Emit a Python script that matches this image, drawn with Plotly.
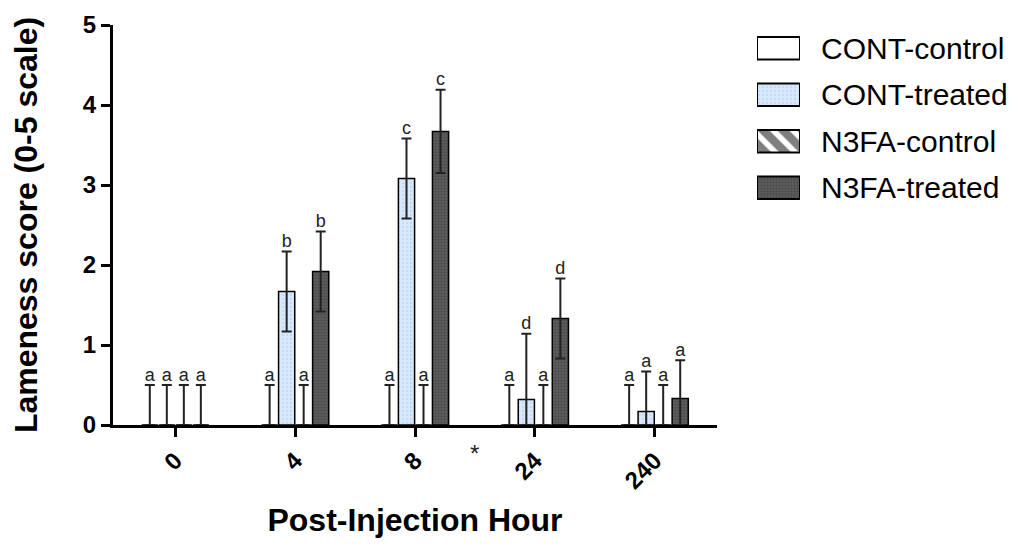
import plotly.graph_objects as go

# Post-injection time points (hours)
hours = ["0", "4", "8", "24", "240"]

# Mean lameness scores per group
cont_control = [0, 0, 0, 0, 0]
cont_treated = [0, 1.67, 3.08, 0.32, 0.17]
n3fa_control = [0, 0, 0, 0, 0]
n3fa_treated = [0, 1.92, 3.67, 1.33, 0.33]

# Error (SE) per group
cont_control_err = [0.5, 0.5, 0.5, 0.5, 0.5]
cont_treated_err = [0.5, 0.5, 0.5, 0.82, 0.5]
n3fa_control_err = [0.5, 0.5, 0.5, 0.5, 0.5]
n3fa_treated_err = [0.5, 0.5, 0.52, 0.5, 0.48]

# Significance letters
cont_control_lbl = ["a", "a", "a", "a", "a"]
cont_treated_lbl = ["a", "b", "c", "d", "a"]
n3fa_control_lbl = ["a", "a", "a", "a", "a"]
n3fa_treated_lbl = ["a", "b", "c", "d", "a"]

names = ["CONT-control", "CONT-treated", "N3FA-control", "N3FA-treated"]
values = [cont_control, cont_treated, n3fa_control, n3fa_treated]
errors = [cont_control_err, cont_treated_err, n3fa_control_err, n3fa_treated_err]
letters = [cont_control_lbl, cont_treated_lbl, n3fa_control_lbl, n3fa_treated_lbl]

patterns = [
    dict(shape="", bgcolor="white"),
    dict(shape=".", bgcolor="#d9e9fb", fgcolor="#a9c8ec", size=4, solidity=0.25),
    dict(shape="\\", bgcolor="white", fgcolor="black", size=14, solidity=0.6),
    dict(shape=".", bgcolor="#5c5c5c", fgcolor="#333333", size=3, solidity=0.3),
]
fills = ["white", "#d9e9fb", "white", "#5c5c5c"]

FONT = "Arial, Liberation Sans, sans-serif"
step = 0.142
bar_w = 0.135
idx = list(range(len(hours)))

fig = go.Figure()
for k in range(4):
    off = (k - 1.5) * step
    xs = [i + off for i in idx]
    # lower whisker cannot go below zero
    minus = [min(e, v) for e, v in zip(errors[k], values[k])]
    fig.add_trace(go.Bar(
        x=xs, y=values[k], width=bar_w, name=names[k],
        marker=dict(color=fills[k], line=dict(color="black", width=1.5),
                    pattern=patterns[k]),
        error_y=dict(type="data", symmetric=False, array=errors[k],
                     arrayminus=minus, color="#222222", thickness=2, width=5),
    ))
    fig.add_trace(go.Scatter(
        x=xs, y=[v + e for v, e in zip(values[k], errors[k])],
        text=letters[k], mode="text", textposition="top center",
        textfont=dict(family=FONT, size=18, color="#222222"),
        cliponaxis=False, hoverinfo="skip",
    ))

# Key: one swatch per group on its own small axis pair, names as tick labels
for k in range(4):
    fig.add_trace(go.Bar(
        x=[1], y=[names[k]], orientation="h", width=0.48,
        xaxis="x2", yaxis="y2", hoverinfo="skip",
        marker=dict(color=fills[k], line=dict(color="black", width=2),
                    pattern=patterns[k]),
    ))

# break marker between the 8 h and 24 h groups
fig.add_annotation(x=2.5, y=-0.11, xref="x", yref="paper", text="*", showarrow=False,
                   font=dict(family=FONT, size=24, color="#222222"))

axis_common = dict(
    showline=True, linecolor="black", linewidth=3,
    ticks="outside", ticklen=9, tickwidth=3, tickcolor="black",
    showgrid=False, zeroline=False,
    tickfont=dict(family=FONT, size=24, color="black", weight="bold"),
)
plot_w = 1026 - 113 - 6

fig.update_layout(
    width=1026, height=546,
    margin=dict(l=113, r=6, t=25, b=121),
    paper_bgcolor="white", plot_bgcolor="white",
    barmode="overlay", showlegend=False,
    font=dict(family=FONT, color="black"),
    xaxis=dict(
        domain=[0, 604 / plot_w],
        range=[-0.52, 4.52], tickvals=idx, ticktext=hours, tickangle=-45,
        title=dict(text="Post-Injection Hour", standoff=16,
                   font=dict(family=FONT, size=32, color="black", weight="bold")),
        **axis_common,
    ),
    yaxis=dict(
        range=[0, 5], dtick=1,
        title=dict(text="Lameness score (0-5 scale)", standoff=36,
                   font=dict(family=FONT, size=32, color="black", weight="bold")),
        **axis_common,
    ),
    xaxis2=dict(domain=[(757 - 113) / plot_w, (800 - 113) / plot_w], range=[0, 1],
                anchor="y2", visible=False, fixedrange=True),
    yaxis2=dict(domain=[0.535, 1.0], anchor="x2", side="right",
                autorange="reversed", type="category",
                showline=False, showgrid=False, zeroline=False, ticks="",
                ticklabelstandoff=20,
                tickfont=dict(family=FONT, size=30, color="black")),
)

fig.write_html("out.html")
